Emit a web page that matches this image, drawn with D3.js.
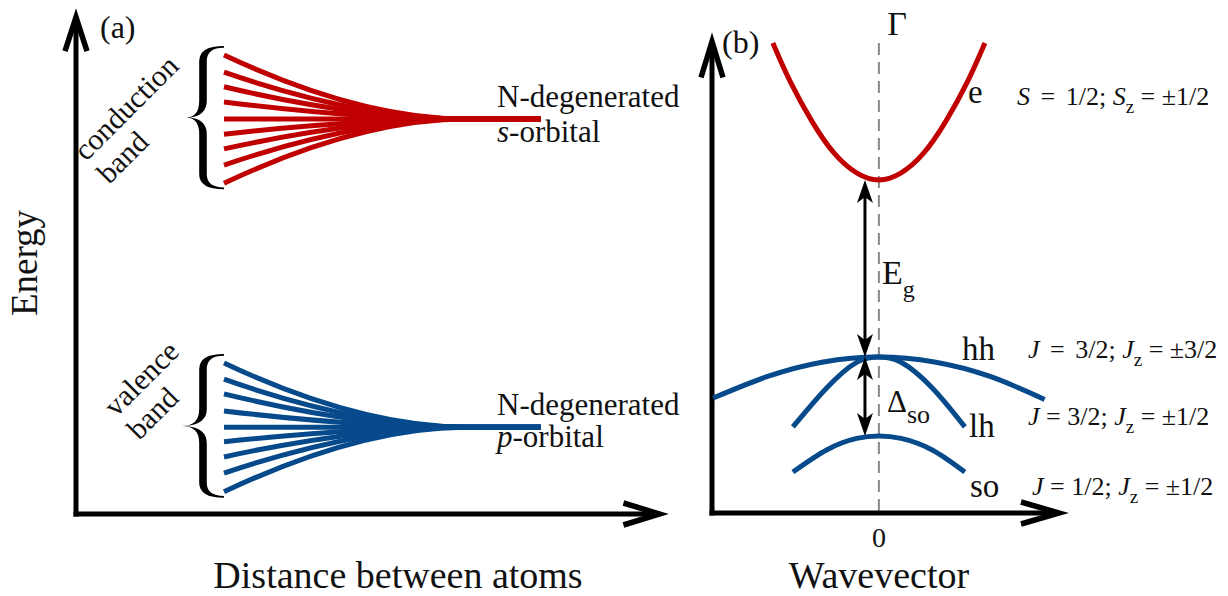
<!DOCTYPE html>
<html><head><meta charset="utf-8">
<script src="https://cdn.jsdelivr.net/npm/d3@7"></script>
<style>
body{margin:0;background:#fff}
svg{display:block}
text{font-family:"Liberation Serif","Times New Roman",serif;fill:#111;white-space:pre}
</style>
</head><body>
<svg id="c" width="1228" height="596"></svg>
<script>
// ================= DATA =================
// Panel (a): energy levels (arb. units) at the left side of the fans
const conductionLevels = [9.09, 8.75, 8.46, 8.16, 7.82, 7.52, 7.23, 6.91, 6.55];
const valenceLevels    = [2.99, 2.67, 2.38, 2.04, 1.72, 1.43, 1.13, 0.81, 0.44];
const conductionCenter = 7.82;
const valenceCenter    = 1.72;
// distance between atoms: split start, bend, merge, end of degenerate level
const fanDistance = [2.5, 4.8, 6.6, 7.85];
const fanLabelsTop = ["N-degenerated", "N-degenerated"];
const fanOrbital = ["s", "p"];
const bandWords = [["conduction", "band"], ["valence", "band"]];

// Panel (b): band dispersions, [wavevector, energy] (Eg = 1)
const bandE  = [[-0.953,1.774],[-0.8,1.56],[-0.6,1.33],[-0.4,1.15],[-0.2,1.04],[0,1.0],[0.2,1.04],[0.4,1.15],[0.6,1.33],[0.8,1.56],[0.953,1.774]];
const bandHH = [[-1.49,-0.232],[-1.0,-0.11],[-0.5,-0.028],[0,0],[0.5,-0.028],[1.0,-0.11],[1.49,-0.24]];
const bandLH = [[-0.773,-0.395],[-0.47,-0.175],[-0.2,-0.03],[0,0],[0.2,-0.03],[0.48,-0.175],[0.773,-0.395]];
const bandSO = [[-0.773,-0.65],[-0.47,-0.525],[-0.2,-0.46],[0,-0.446],[0.2,-0.46],[0.48,-0.525],[0.773,-0.65]];
const gapEnergy = 1.0;
const splitEnergy = -0.446;
const arrowK = -0.125;
const bandNames = ["e", "hh", "lh", "so"];
const spinSymbol = ["S", "J", "J", "J"];
const spinTotal = ["1/2", "3/2", "3/2", "1/2"];
const spinProj = ["±1/2", "±3/2", "±1/2", "±1/2"];
const xTickLabels = ["0"];

// ================= DRAW =================
const RED = "#c00000", BLUE = "#064a8c";
const svg = d3.select("#c");
const xA = d3.scaleLinear().domain([0, 10]).range([76, 668]);
const yA = d3.scaleLinear().domain([0, 10]).range([514, 9]);
const xB = d3.scaleLinear().domain([-1.5, 1.7]).range([712, 1068]);
const yB = d3.scaleLinear().domain([0, 1]).range([357, 180]);

function axisArrow(x1, y1, x2, y2, len, half) {
  const dx = x2 - x1, dy = y2 - y1, L = Math.hypot(dx, dy);
  const ux = dx / L, uy = dy / L, w = 5;
  const ext = (w / 2) / Math.sin(Math.atan(half / len));
  const ax = x2 - ux * ext, ay = y2 - uy * ext;
  svg.append("line").attr("x1", x1).attr("y1", y1).attr("x2", ax).attr("y2", ay)
    .attr("stroke", "#000").attr("stroke-width", w);
  const bx = ax - ux * len, by = ay - uy * len;
  const px = -uy, py = ux;
  svg.append("path")
    .attr("d", `M${bx + px * half},${by + py * half}L${ax},${ay}L${bx - px * half},${by - py * half}`)
    .attr("fill", "none").attr("stroke", "#000").attr("stroke-width", w + 0.5)
    .attr("stroke-linejoin", "miter").attr("stroke-miterlimit", 20);
}

// ---- Panel (a) axes ----
axisArrow(xA(0), yA(0) + 2.5, xA(0), yA(10), 34, 11);
axisArrow(xA(0) - 2.5, yA(0), xA(10), yA(0), 36, 11);

function bracePath(xt, xs, xr, yt, yb) {
  const ym = (yt + yb) / 2, h1 = 15, h2 = 17, t = 3.8;
  return `M${xr},${yt} Q${xs - t},${yt} ${xs - t},${yt + h1} L${xs - t},${ym - h2} Q${xs - t},${ym} ${xt},${ym} ` +
    `Q${xs - t},${ym} ${xs - t},${ym + h2} L${xs - t},${yb - h1} Q${xs - t},${yb} ${xr},${yb} ` +
    `L${xr},${yb - 1.8} Q${xs + t},${yb - 1.8} ${xs + t},${yb - h1} L${xs + t},${ym + h2} ` +
    `Q${xs + t},${ym + 2} ${xt + 4},${ym} Q${xs + t},${ym - 2} ${xs + t},${ym - h2} ` +
    `L${xs + t},${yt + h1} Q${xs + t},${yt + 1.8} ${xr},${yt + 1.8} Z`;
}

function fan(levels, center, color, braceTip, words, wordPos, label, orb, labelY) {
  levels.forEach(E => {
    const p = d3.path();
    p.moveTo(xA(fanDistance[0]), yA(E));
    p.quadraticCurveTo(xA(fanDistance[1]), yA(center), xA(fanDistance[2]), yA(center));
    p.lineTo(xA(fanDistance[3]), yA(center));
    svg.append("path").attr("d", p.toString()).attr("fill", "none")
      .attr("stroke", color).attr("stroke-width", 5);
  });
  const yt = yA(d3.max(levels)) - 9, yb = yA(d3.min(levels)) + 6;
  svg.append("path").attr("d", bracePath(braceTip, 203, 224, yt, yb)).attr("fill", "#000");
  words.forEach((w, i) => {
    svg.append("text").attr("transform", `translate(${wordPos[0] + i * 23},${wordPos[1] + i * 23}) rotate(-45)`)
      .attr("font-size", 30).text(w);
  });
  svg.append("text").attr("x", 497).attr("y", labelY[0]).attr("font-size", 31).text(label);
  const t = svg.append("text").attr("x", 497).attr("y", labelY[1]).attr("font-size", 31);
  t.append("tspan").attr("font-style", "italic").text(orb);
  t.append("tspan").text("-orbital");
}
fan(conductionLevels, conductionCenter, RED, 186, bandWords[0], [86, 162], fanLabelsTop[0], fanOrbital[0], [107, 142]);
fan(valenceLevels, valenceCenter, BLUE, 182, bandWords[1], [116, 418], fanLabelsTop[1], fanOrbital[1], [415, 447]);

svg.append("text").attr("x", 100).attr("y", 38).attr("font-size", 32).text("(a)");
svg.append("text").attr("transform", "translate(37,263) rotate(-90)").attr("text-anchor", "middle")
  .attr("font-size", 37).text("Energy");
svg.append("text").attr("x", 398).attr("y", 588).attr("text-anchor", "middle")
  .attr("font-size", 38).text("Distance between atoms");

// ---- Panel (b) ----
svg.append("line").attr("x1", xB(0)).attr("x2", xB(0)).attr("y1", 43).attr("y2", 513)
  .attr("stroke", "#888").attr("stroke-width", 2).attr("stroke-dasharray", "12,7");
axisArrow(xB(-1.5), 515.5, xB(-1.5), 33, 36, 11);
axisArrow(xB(-1.5) - 2.5, 513, xB(1.7), 513, 38, 11);

const line = d3.line().x(d => xB(d[0])).y(d => yB(d[1])).curve(d3.curveNatural);
[[bandE, RED], [bandHH, BLUE], [bandLH, BLUE], [bandSO, BLUE]].forEach(([d, c]) => {
  svg.append("path").attr("d", line(d)).attr("fill", "none").attr("stroke", c).attr("stroke-width", 5);
});

function headPath(x, y, dir) {
  return `M${x},${y}L${x - 8},${y - dir * 23}L${x},${y - dir * 17}L${x + 8},${y - dir * 23}Z`;
}
function dblArrow(k, e1, e2) {
  const x = xB(k), ya = yB(e1), yb = yB(e2);
  svg.append("line").attr("x1", x).attr("x2", x).attr("y1", ya + 16).attr("y2", yb - 16)
    .attr("stroke", "#000").attr("stroke-width", 3);
  svg.append("path").attr("d", headPath(x, ya, -1)).attr("fill", "#000");
  svg.append("path").attr("d", headPath(x, yb, 1)).attr("fill", "#000");
}
dblArrow(arrowK, gapEnergy, 0);
dblArrow(arrowK, 0, splitEnergy);

const eg = svg.append("text").attr("x", 882).attr("y", 284).attr("font-size", 34);
eg.append("tspan").text("E");
eg.append("tspan").attr("font-size", 24).attr("dy", 13).text("g");
const ds = svg.append("text").attr("x", 887).attr("y", 412).attr("font-size", 31);
ds.append("tspan").text("Δ");
ds.append("tspan").attr("font-size", 26).attr("dy", 11).text("so");

svg.append("text").attr("x", 722).attr("y", 53).attr("font-size", 32).text("(b)");
svg.append("text").attr("x", 897).attr("y", 35).attr("text-anchor", "middle").attr("font-size", 34).text("Γ");
svg.selectAll(".tick0").data(xTickLabels).enter().append("text")
  .attr("x", xB(0)).attr("y", 547).attr("text-anchor", "middle").attr("font-size", 28).text(d => d);
svg.append("text").attr("x", xB(0)).attr("y", 588).attr("text-anchor", "middle")
  .attr("font-size", 38).text("Wavevector");

const nameX = [968, 962, 969, 970], nameY = [103, 360, 437, 497];
const stX = [1017, 1028, 1028, 1032], stY = [105, 358, 425, 495];
const wide = [true, true, false, false];
bandNames.forEach((n, i) => {
  svg.append("text").attr("x", nameX[i]).attr("y", nameY[i]).attr("font-size", 33).text(n);
  const t = svg.append("text").attr("x", stX[i]).attr("y", stY[i]).attr("font-size", 26);
  t.append("tspan").attr("font-style", "italic").text(spinSymbol[i]);
  t.append("tspan").attr("dx", wide[i] ? 4 : 0).text(" =");
  t.append("tspan").attr("dx", wide[i] ? 4 : 0).text(" " + spinTotal[i] + "; ");
  t.append("tspan").attr("font-style", "italic").text(spinSymbol[i]);
  t.append("tspan").attr("font-size", 19).attr("dy", 8).text("z");
  t.append("tspan").attr("dy", -8).text(" = " + spinProj[i]);
});
</script>
</body></html>
